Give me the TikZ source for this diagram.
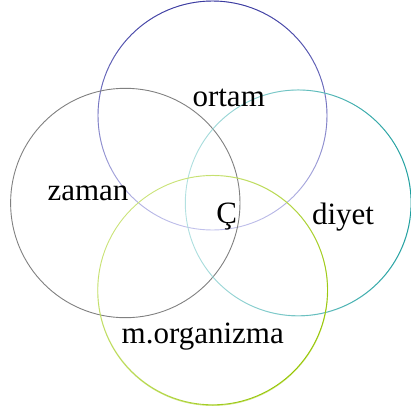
\documentclass[tikz,border=0pt]{standalone}
\usepackage{fontspec}
\setmainfont{Liberation Serif}
\usetikzlibrary{fadings}
\definecolor{ortamblue}{HTML}{3A3A9E}
\definecolor{ortamlight}{HTML}{C2C2EC}
\definecolor{zamangray}{HTML}{808080}
\definecolor{diyetteal}{HTML}{1E9E9E}
\definecolor{diyetlight}{HTML}{B4E2E2}
\definecolor{orggreen}{HTML}{94C400}
\definecolor{orglight}{HTML}{CCE47C}
\tikzfading[name=halffade, top color=transparent!0, middle color=transparent!15, bottom color=transparent!100]
\tikzfading[name=softfade, top color=transparent!0, middle color=transparent!0, bottom color=transparent!100]

\begin{document}
\begin{tikzpicture}[
  x=1pt, y=-1pt,
  ring/.style={line width=0.9pt},
  word/.style={font=\fontsize{31}{31}\selectfont, inner sep=0pt, text=black}
]
\useasboundingbox (0,0) rectangle (411,413);
% circles: light base, dark part faded in
\draw[ring, ortamlight] (212.5,115.5) circle (114.5);
\draw[ring, ortamblue, path fading=halffade] (212.5,115.5) circle (114.5);
\draw[ring, zamangray] (125.3,203) circle (114.7);
\draw[ring, diyetlight] (298.3,203) circle (113);
\draw[ring, diyetteal, path fading=halffade, fading angle=-90] (298.3,203) circle (113);
\draw[ring, orglight] (212.7,290.5) circle (115);
\draw[ring, orggreen, path fading=softfade, fading angle=-135] (212.7,290.5) circle (115);
% labels
\node[word] (ortam) at (228.7,98) {ortam};
\node[word] (zaman) at (88,193) {zaman};
\node[word] (cc) at (226.7,217) {Ç};
\node[word] (diyet) at (343,217) {diyet};
\node[word] (organizma) at (202.7,337) {m.organizma};
\end{tikzpicture}
\end{document}
